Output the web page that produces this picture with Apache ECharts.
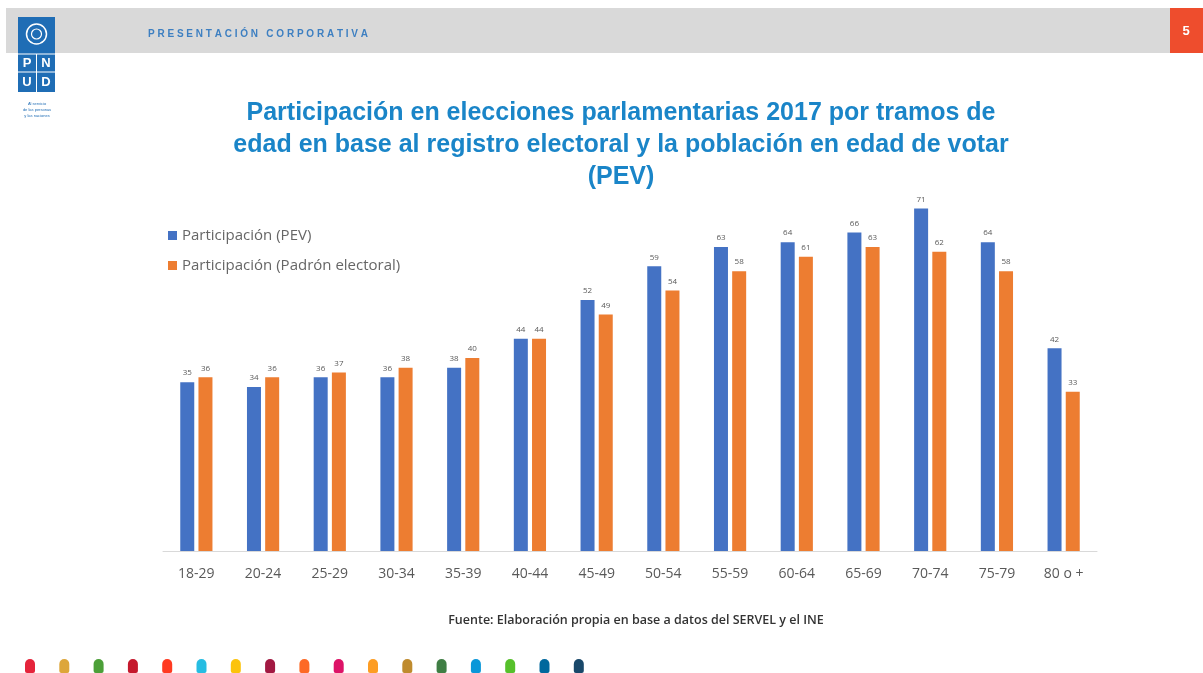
<!DOCTYPE html>
<html lang="es">
<head>
    <meta charset="UTF-8">
    <title>Participación elecciones 2017</title>
    <script src="https://cdn.jsdelivr.net/npm/echarts@6/dist/echarts.min.js"></script>
    <style>
        html, body { margin: 0; padding: 0; background: #fff; }
        #chart { width: 1203px; height: 673px; }
    </style>
</head>
<body>
    <div id="chart"></div>
    <script>
        // tramos de edad
        const categories = ['18-29', '20-24', '25-29', '30-34', '35-39', '40-44', '45-49',
            '50-54', '55-59', '60-64', '65-69', '70-74', '75-79', '80 o +'];
        // participación sobre población en edad de votar
        const pevValues = [35, 34, 36, 36, 38, 44, 52, 59, 63, 64, 66, 71, 64, 42];
        // participación sobre padrón electoral
        const padronValues = [36, 36, 37, 38, 40, 44, 49, 54, 58, 61, 63, 62, 58, 33];
        const seriesNames = ['Participación (PEV)', 'Participación (Padrón electoral)'];
        // colores de los ODS para los puntos del pie
        const sdgColors = ['#e5243b', '#dda63a', '#4c9f38', '#c5192d', '#ff3a21', '#26bde2', '#fcc30b',
            '#a21942', '#fd6925', '#dd1367', '#fd9d24', '#bf8b2e', '#3f7e44', '#0a97d9', '#56c02b',
            '#00689d', '#19486a'];

        const labelColor = '#595959';
        const font = '"Open Sans", "Noto Sans", sans-serif';

        // decorado de la diapositiva
        const deco = [
            { type: 'rect', shape: { x: 6, y: 8, width: 1164, height: 45 }, style: { fill: '#d9d9d9' }, z: 0 },
            { type: 'rect', shape: { x: 1170, y: 8, width: 33, height: 45 }, style: { fill: '#ee4d2d' }, z: 1 },
            { type: 'text', x: 1186, y: 31, style: { text: '5', fill: '#fff', font: 'bold 13px "Liberation Sans"', align: 'center', verticalAlign: 'middle' }, z: 2 },
            { type: 'text', x: 148, y: 34, style: { text: 'P R E S E N T A C I Ó N   C O R P O R A T I V A', fill: '#3d7fc1', font: 'bold 10px "Liberation Sans"', verticalAlign: 'middle' }, z: 2 },
            // logo PNUD
            { type: 'rect', shape: { x: 18, y: 17, width: 37, height: 75 }, style: { fill: '#1f6db5' }, z: 3 },
            { type: 'circle', shape: { cx: 36.5, cy: 34, r: 10 }, style: { fill: 'none', stroke: '#fff', lineWidth: 1.5 }, z: 4 },
            { type: 'circle', shape: { cx: 36.5, cy: 34, r: 5 }, style: { fill: 'none', stroke: '#fff', lineWidth: 1.2 }, z: 4 },
            { type: 'line', shape: { x1: 18, y1: 54, x2: 55, y2: 54 }, style: { stroke: '#fff', lineWidth: 1 }, z: 4 },
            { type: 'line', shape: { x1: 18, y1: 72, x2: 55, y2: 72 }, style: { stroke: '#fff', lineWidth: 1 }, z: 4 },
            { type: 'line', shape: { x1: 36.5, y1: 54, x2: 36.5, y2: 92 }, style: { stroke: '#fff', lineWidth: 1 }, z: 4 },
            { type: 'text', x: 27, y: 63, style: { text: 'P', fill: '#fff', font: 'bold 13px "Liberation Sans"', align: 'center', verticalAlign: 'middle' }, z: 4 },
            { type: 'text', x: 46, y: 63, style: { text: 'N', fill: '#fff', font: 'bold 13px "Liberation Sans"', align: 'center', verticalAlign: 'middle' }, z: 4 },
            { type: 'text', x: 27, y: 82, style: { text: 'U', fill: '#fff', font: 'bold 13px "Liberation Sans"', align: 'center', verticalAlign: 'middle' }, z: 4 },
            { type: 'text', x: 46, y: 82, style: { text: 'D', fill: '#fff', font: 'bold 13px "Liberation Sans"', align: 'center', verticalAlign: 'middle' }, z: 4 },
            { type: 'text', x: 37, y: 110, style: { text: 'Al servicio\nde las personas\ny las naciones', fill: '#1f6db5', font: '4px "Liberation Sans"', align: 'center', verticalAlign: 'middle', lineHeight: 6 }, z: 4 },
            // fuente
            { type: 'text', x: 636, y: 620, style: { text: 'Fuente: Elaboración propia en base a datos del SERVEL y el INE', fill: '#333', font: '600 12.5px ' + font, align: 'center', verticalAlign: 'middle' }, z: 4 }
        ];
        sdgColors.forEach((c, i) => {
            deco.push({ type: 'rect', shape: { x: 25 + i * 34.3, y: 659, width: 10, height: 14, r: [5, 5, 2, 2] }, style: { fill: c }, z: 4 });
        });

        const chart = echarts.init(document.getElementById('chart'), null, { renderer: 'canvas' });
        const barLabel = { show: true, position: 'top', distance: 5, fontSize: 8, color: labelColor, fontFamily: font };
        chart.setOption({
            animation: false,
            backgroundColor: '#fff',
            title: {
                text: 'Participación en elecciones parlamentarias 2017 por tramos de\nedad en base al registro electoral y la población en edad de votar\n(PEV)',
                left: 616,
                top: 92,
                textAlign: 'center',
                textStyle: {
                    fontFamily: '"Liberation Sans", Arial, sans-serif',
                    fontWeight: 'bold',
                    fontSize: 25,
                    lineHeight: 32,
                    color: '#1a85c8'
                }
            },
            legend: {
                orient: 'vertical',
                left: 163,
                top: 223,
                itemWidth: 9,
                itemHeight: 9,
                itemGap: 15,
                icon: 'rect',
                textStyle: { fontSize: 15, color: '#666', fontFamily: font },
                data: seriesNames
            },
            grid: { left: 163, right: 106, top: 165, bottom: 122 },
            xAxis: {
                type: 'category',
                data: categories,
                axisLine: { lineStyle: { color: '#d9d9d9', width: 1 } },
                axisTick: { show: false },
                axisLabel: { color: labelColor, fontSize: 14, margin: 16, fontFamily: font }
            },
            yAxis: {
                type: 'value',
                min: 0,
                max: 80,
                show: false,
                splitLine: { show: false }
            },
            series: [
                {
                    name: seriesNames[0],
                    type: 'bar',
                    data: pevValues,
                    itemStyle: { color: '#4472c4' },
                    barWidth: 14,
                    barGap: '30%',
                    label: barLabel
                },
                {
                    name: seriesNames[1],
                    type: 'bar',
                    data: padronValues,
                    itemStyle: { color: '#ed7d31' },
                    barWidth: 14,
                    label: barLabel
                }
            ],
            graphic: deco
        });
    </script>
</body>
</html>
